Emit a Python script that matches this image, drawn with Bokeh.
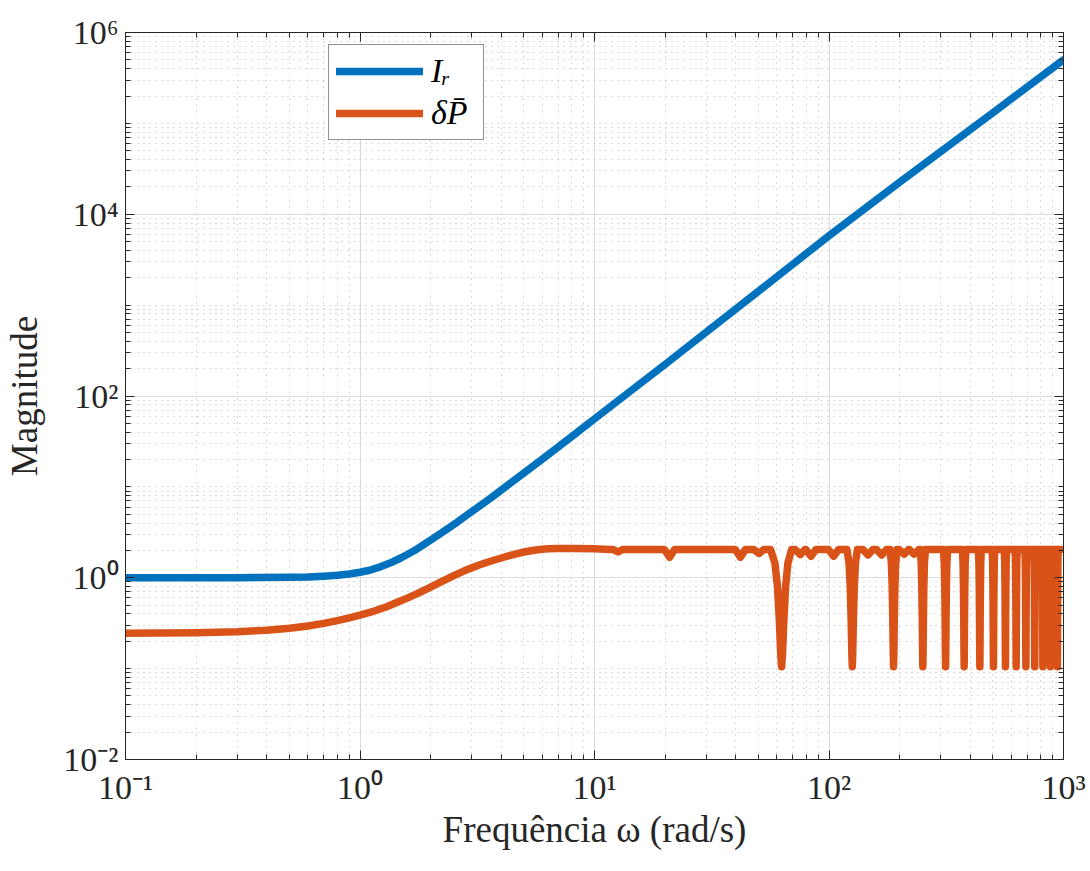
from bokeh.plotting import figure
from bokeh.models import (LogAxis, FixedTicker, CustomJSTickFormatter, Legend,
                          LegendItem, Range1d, ColumnDataSource)
from bokeh.embed import file_html
from bokeh.resources import INLINE

# ---------------- data ----------------
x_ticks = [0.1, 1, 10, 100, 1000]
x_tick_labels = ["10\u207b\u00b9", "10\u2070", "10\u00b9", "10\u00b2", "10\u00b3"]
y_ticks = [1e-2, 1, 1e2, 1e4, 1e6]
y_tick_labels = ["10\u207b\u00b2", "10\u2070", "10\u00b2", "10\u2074", "10\u2076"]

ir_w = [0.1, 0.3, 0.5, 0.6, 0.7, 0.8, 0.9, 1.0, 1.1, 1.2, 1.35, 1.5, 1.7, 2.0,
        2.3, 2.6, 3.0, 3.6, 4.3, 5.0, 6.0, 7.0, 8.5, 10.0, 20.0, 50.0, 100.0,
        200.0, 500.0, 1000.0]
ir_mag = [1.0, 1.0, 1.01, 1.02, 1.04, 1.065, 1.1, 1.15, 1.21, 1.3, 1.46,
          1.66, 1.98, 2.6, 3.3, 4.1, 5.35, 7.5, 10.6, 14.2, 20.3, 27.5, 40.5,
          56.0, 223.0, 1420.0, 5800.0, 22500.0, 131000.0, 500000.0]

dp_base_w = [0.1, 0.2, 0.3, 0.4, 0.5, 0.6, 0.7, 0.8, 0.9, 1.0, 1.15, 1.3, 1.45,
             1.6, 1.8, 2.0, 2.25, 2.5, 2.8, 3.2, 3.6, 4.0, 4.5, 5.0, 5.6, 6.3,
             7.0, 8.0, 10.0, 11.5, 1000.0]
dp_base_mag = [0.245, 0.248, 0.255, 0.265, 0.278, 0.295, 0.315, 0.338, 0.362,
               0.388, 0.43, 0.48, 0.54, 0.6, 0.69, 0.79, 0.92, 1.05, 1.2,
               1.37, 1.52, 1.65, 1.8, 1.92, 2.02, 2.08, 2.1, 2.1, 2.08, 2.05, 2.05]
dp_flat = 2.05

# deep notches (rad/s) and notch profile (offset rad/s, magnitude)
notch_w = [62.8, 125.7, 188.5, 251.3, 314.2, 377.0, 439.8, 502.7, 565.5,
           628.3, 691.2, 754.0, 816.8, 879.6, 942.5]
notch_off = [-6.5, -4.0, -2.5, -1.4, -0.5, 0.0, 0.5, 1.4, 2.5, 4.0, 6.5]
notch_mag = [2.05, 1.45, 0.8, 0.34, 0.14, 0.105, 0.14, 0.34, 0.8, 1.45, 2.05]

# shallow dents (rad/s) and their depth
dent_w = [12.6, 20.9, 41.9, 50.3, 75.4, 83.8, 104.7, 146.6, 167.6, 209.4, 230.4]
dent_mag = [1.92, 1.68, 1.68, 1.85, 1.8, 1.72, 1.72, 1.78, 1.78, 1.82, 1.82]
dent_rel = [0.95, 1.0, 1.05]

# ---------------- assemble the δP̄ trace ----------------
pts = list(zip(dp_base_w, dp_base_mag))
for w0 in notch_w:
    for o, m in zip(notch_off, notch_mag):
        pts.append((w0 + o, m))
for w0, m0 in zip(dent_w, dent_mag):
    for r in dent_rel:
        pts.append((w0 * r, m0 if r == 1.0 else dp_flat))
pts.sort(key=lambda t: t[0])
dp_w = [t[0] for t in pts]
dp_mag = [t[1] for t in pts]

BLUE = "#0072BD"
ORANGE = "#D95319"
FONT = "Liberation Serif"
DARK = "#262626"

p = figure(width=1090, height=871, x_axis_type="log", y_axis_type="log",
           x_range=Range1d(0.1, 1000), y_range=Range1d(0.01, 1e6),
           output_backend="svg", toolbar_location=None,
           min_border_left=125, min_border_right=27, min_border_top=32,
           min_border_bottom=112)
p.background_fill_color = "white"
p.border_fill_color = "white"
p.outline_line_color = DARK

x_minor = [k * d for d in [0.1, 1, 10, 100] for k in range(1, 10)] + [1000]
y_minor = [k * (10.0 ** e) for e in range(-2, 6) for k in range(1, 10)] + [1e6]
xticker = FixedTicker(ticks=x_ticks, minor_ticks=x_minor)
yticker = FixedTicker(ticks=y_ticks, minor_ticks=y_minor)

fmt_code = """
let best = 0, bd = Infinity;
for (let i = 0; i < vals.length; i++) {
  const d = Math.abs(Math.log10(tick) - Math.log10(vals[i]));
  if (d < bd) { bd = d; best = i; }
}
return labs[best];
"""
xfmt = CustomJSTickFormatter(args=dict(vals=x_ticks, labs=x_tick_labels), code=fmt_code)
yfmt = CustomJSTickFormatter(args=dict(vals=y_ticks, labs=y_tick_labels), code=fmt_code)

def style_axis(ax):
    ax.axis_line_color = DARK
    ax.axis_line_width = 1
    ax.major_tick_line_color = DARK
    ax.minor_tick_line_color = DARK
    ax.major_tick_in = 9
    ax.major_tick_out = 0
    ax.minor_tick_in = 5
    ax.minor_tick_out = 0
    ax.major_label_text_font = FONT
    ax.major_label_text_font_size = "34px"
    ax.major_label_text_color = DARK
    ax.axis_label_text_font = FONT
    ax.axis_label_text_font_size = "37px"
    ax.axis_label_text_font_style = "normal"
    ax.axis_label_text_color = DARK

xa = p.xaxis[0]
ya = p.yaxis[0]
xa.ticker = xticker
ya.ticker = yticker
xa.formatter = xfmt
ya.formatter = yfmt
style_axis(xa)
style_axis(ya)
xa.axis_label = "Frequência ω (rad/s)"
ya.axis_label = "Magnitude"
xa.major_label_standoff = 9
xa.axis_label_standoff = 0
ya.major_label_standoff = 7
ya.axis_label_standoff = 15

blank = CustomJSTickFormatter(code="return '';")
top = LogAxis(ticker=xticker, formatter=blank)
right = LogAxis(ticker=yticker, formatter=blank)
for ax in (top, right):
    style_axis(ax)
    ax.major_label_text_font_size = "1px"
    ax.major_label_standoff = 0
p.add_layout(top, "above")
p.add_layout(right, "right")

p.xgrid.ticker = xticker
p.ygrid.ticker = yticker
for g in (p.xgrid, p.ygrid):
    g.grid_line_color = "#dcdcdc"
    g.grid_line_width = 1
    g.minor_grid_line_color = "#b4b4b4"
    g.minor_grid_line_dash = "1 5"
    g.minor_grid_line_width = 1

src_ir = ColumnDataSource(dict(w=ir_w, m=ir_mag))
src_dp = ColumnDataSource(dict(w=dp_w, m=dp_mag))
r1 = p.line("w", "m", source=src_ir, line_color=BLUE, line_width=7.5,
            line_cap="round", line_join="round")
r2 = p.line("w", "m", source=src_dp, line_color=ORANGE, line_width=7.5,
            line_cap="round", line_join="round")

legend = Legend(items=[LegendItem(label="I\u1d63", renderers=[r1]),
                       LegendItem(label="\u03b4P\u0304", renderers=[r2])],
                location=(203, 619))
legend.label_text_font = FONT
legend.label_text_font_style = "italic"
legend.label_text_font_size = "34px"
legend.label_text_color = "black"
legend.glyph_width = 87
legend.glyph_height = 30
legend.label_height = 30
legend.label_width = 45
legend.label_standoff = 8
legend.spacing = 4
legend.padding = 7
legend.margin = 0
legend.border_line_color = DARK
legend.border_line_width = 1
legend.background_fill_color = "white"
legend.background_fill_alpha = 1
p.add_layout(legend)

open("out.html", "w").write(file_html(p, INLINE))
